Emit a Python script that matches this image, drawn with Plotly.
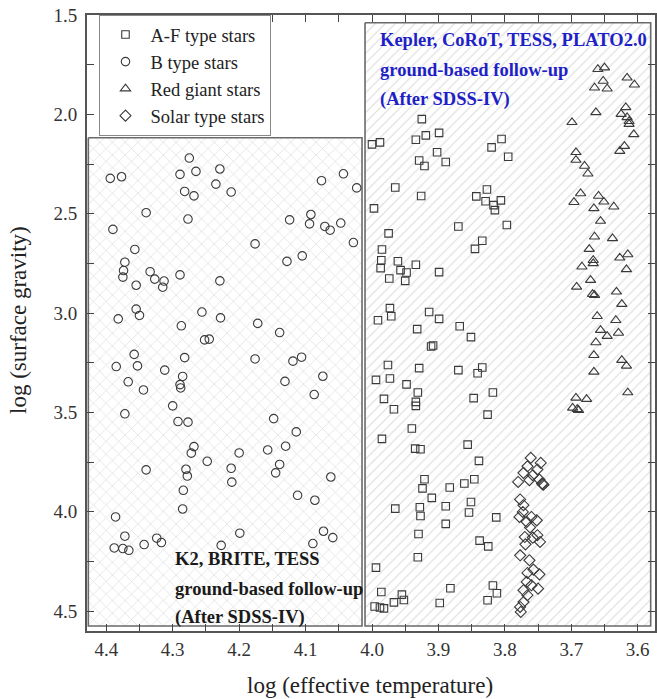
import plotly.graph_objects as go

# ---- data (log Teff, log g) ----
af_x = [3.925,4.0,3.988,3.934,3.919,3.899,3.902,3.929,3.921,3.889,3.82,3.805,3.795,3.965,3.926,3.997,3.827,3.843,3.829,3.806,3.817,3.815,3.87,3.797,3.975,3.985,3.834,3.845,3.986,3.987,3.961,3.957,3.948,3.974,3.95,3.934,3.899,3.973,3.971,3.991,3.914,3.899,3.932,3.868,3.851,3.911,3.908,
        3.976,3.929,3.87,3.834,3.841,3.994,3.973,3.948,3.931,3.934,3.934,3.982,3.967,3.847,3.818,3.826,3.94,3.985,3.935,3.927,3.856,3.839,3.921,3.924,3.91,3.883,3.861,3.846,3.965,3.928,3.927,3.889,3.889,3.851,3.854,3.813,3.93,3.838,3.825,3.931,3.994,3.986,3.955,3.952,3.967,3.996,3.982,3.988,3.898,3.882,3.818,3.812,3.826]
af_y = [2.024,2.151,2.141,2.128,2.106,2.093,2.191,2.232,2.26,2.24,2.166,2.124,2.213,2.368,2.411,2.473,2.378,2.413,2.437,2.433,2.457,2.482,2.564,2.557,2.599,2.68,2.636,2.677,2.734,2.774,2.739,2.784,2.796,2.826,2.838,2.757,2.794,2.975,3.016,3.036,2.995,3.029,3.081,3.066,3.121,3.168,3.163,
        3.261,3.277,3.287,3.274,3.303,3.336,3.329,3.359,3.4,3.447,3.467,3.432,3.484,3.428,3.4,3.511,3.581,3.633,3.682,3.685,3.662,3.744,3.836,3.882,3.93,3.878,3.858,3.836,3.984,3.977,4.021,3.972,4.061,3.951,4.004,4.028,4.112,4.145,4.174,4.229,4.281,4.404,4.417,4.444,4.456,4.477,4.486,4.482,4.459,4.385,4.371,4.41,4.445]

b_x = [4.275,4.394,4.377,4.289,4.265,4.229,4.282,4.268,4.235,4.212,4.076,4.043,4.023,4.34,4.39,4.277,4.124,4.092,4.094,4.071,4.063,4.047,4.028,4.176,4.357,4.372,4.374,4.375,4.355,4.334,4.327,4.313,4.315,4.289,4.229,4.128,4.105,4.355,4.35,4.382,4.287,4.256,4.228,4.172,4.139,4.252,4.245,4.358,4.385,4.353,4.312,4.282,4.176,4.119,4.106,4.074,
       4.285,4.367,4.344,4.289,4.288,4.131,4.087,4.372,4.3,4.292,4.277,4.148,4.114,4.268,4.272,4.2,4.157,4.13,4.248,4.34,4.28,4.278,4.212,4.211,4.139,4.145,4.062,4.284,4.285,4.112,4.086,4.386,4.372,4.388,4.375,4.366,4.343,4.324,4.317,4.227,4.199,4.089,4.073,4.059]
b_y = [2.22,2.322,2.314,2.302,2.287,2.275,2.388,2.41,2.351,2.391,2.334,2.299,2.37,2.495,2.579,2.527,2.531,2.504,2.551,2.564,2.583,2.547,2.645,2.652,2.68,2.744,2.786,2.819,2.86,2.792,2.829,2.839,2.87,2.808,2.838,2.74,2.712,2.98,3.012,3.029,3.064,2.995,3.024,3.052,3.098,3.135,3.131,3.208,3.269,3.266,3.287,3.224,3.231,3.242,3.222,3.318,
       3.319,3.346,3.387,3.36,3.377,3.344,3.41,3.507,3.467,3.546,3.549,3.531,3.598,3.672,3.705,3.704,3.689,3.67,3.746,3.789,3.786,3.82,3.781,3.851,3.762,3.804,3.825,3.892,3.986,3.917,3.942,4.026,4.123,4.182,4.185,4.194,4.165,4.133,4.155,4.169,4.108,4.16,4.098,4.13]

rg_x = [3.66,3.65,3.652,3.665,3.646,3.616,3.605,3.663,3.699,3.618,3.625,3.616,3.613,3.613,3.606,3.62,3.627,3.693,3.693,3.68,3.675,3.686,3.696,3.659,3.651,3.666,3.636,3.656,3.665,3.638,3.673,3.667,3.684,3.667,3.627,3.615,3.617,3.671,3.692,3.668,3.665,3.632,3.624,3.661,3.633,3.656,3.646,3.629,3.663,3.666,3.624,3.617,3.666,3.615,3.693,3.677,3.698,3.691,3.689]
rg_y = [1.773,1.765,1.832,1.866,1.871,1.816,1.851,1.99,2.04,1.965,1.999,2.015,2.035,2.049,2.101,2.16,2.185,2.191,2.23,2.26,2.299,2.398,2.442,2.411,2.44,2.473,2.465,2.537,2.616,2.624,2.678,2.734,2.767,2.75,2.722,2.705,2.78,2.834,2.868,2.905,2.91,2.893,2.955,3.016,3.036,3.086,3.116,3.1,3.148,3.212,3.237,3.266,3.296,3.4,3.427,3.433,3.477,3.484,3.489]

sol_x = [3.761,3.746,3.766,3.751,3.772,3.758,3.78,3.763,3.748,3.744,3.743,3.742,3.777,3.772,3.778,3.773,3.76,3.752,3.767,3.762,3.751,3.77,3.758,3.747,3.769,3.777,3.763,3.757,3.748,3.766,3.767,3.76,3.75,3.772,3.766,3.772,3.777,3.776]
sol_y = [3.729,3.754,3.771,3.787,3.804,3.816,3.85,3.841,3.838,3.858,3.861,3.864,3.938,3.967,4.026,4.001,4.026,4.043,4.051,4.079,4.118,4.127,4.13,4.152,4.164,4.219,4.244,4.291,4.315,4.308,4.353,4.37,4.387,4.395,4.42,4.454,4.479,4.504]

# survey coverage regions (log Teff span, log g span)
region_left_x = [4.427, 4.015]
region_left_y = [2.118, 4.575]
region_right_x = [4.0105, 3.5805]
region_right_y = [1.539, 4.575]

x_ticks = [4.4, 4.3, 4.2, 4.1, 4.0, 3.9, 3.8, 3.7, 3.6]
y_ticks = [1.5, 2.0, 2.5, 3.0, 3.5, 4.0, 4.5]

FONT = "Liberation Serif, Times New Roman, serif"
MC = "#3a3a3a"

fig = go.Figure()

def rect(xs, ys, shape, size, sol):
    return go.Scatter(
        x=[xs[0], xs[1], xs[1], xs[0], xs[0]],
        y=[ys[0], ys[0], ys[1], ys[1], ys[0]],
        mode="lines", fill="toself", fillcolor="white",
        fillpattern=dict(shape=shape, size=size, solidity=sol,
                         fgcolor="#b8b8b8", bgcolor="white"),
        line=dict(color="#6a6a6a", width=1.6),
        hoverinfo="skip", showlegend=False)

fig.add_trace(rect(region_left_x, region_left_y, "x", 9, 0.14))
fig.add_trace(rect(region_right_x, region_right_y, "/", 7, 0.16))

fig.add_trace(go.Scatter(x=af_x, y=af_y, mode="markers", name="A-F type stars",
                         marker=dict(symbol="square-open", size=7.5, color=MC, line=dict(width=1.1))))
fig.add_trace(go.Scatter(x=b_x, y=b_y, mode="markers", name="B type stars",
                         marker=dict(symbol="circle-open", size=8.5, color=MC, line=dict(width=1.1))))
fig.add_trace(go.Scatter(x=rg_x, y=rg_y, mode="markers", name="Red giant stars",
                         marker=dict(symbol="triangle-up-open", size=9, color=MC, line=dict(width=1.1))))
fig.add_trace(go.Scatter(x=sol_x, y=sol_y, mode="markers", name="Solar type stars",
                         marker=dict(symbol="diamond-open", size=8.5, color=MC, line=dict(width=1.1))))

blue = "#1f1fc8"
for txt, yy in [("Kepler, CoRoT, TESS, PLATO2.0", 1.626),
                ("ground-based follow-up", 1.777),
                ("(After SDSS-IV)", 1.923)]:
    fig.add_annotation(x=3.991, y=yy, xref="x", yref="y", text=f"<b>{txt}</b>",
                       showarrow=False, xanchor="left", yanchor="middle",
                       font=dict(family=FONT, size=18.5, color=blue))
for txt, yy in [("K2, BRITE, TESS", 4.239),
                ("ground-based follow-up", 4.39),
                ("(After SDSS-IV)", 4.531)]:
    fig.add_annotation(x=4.3, y=yy, xref="x", yref="y", text=f"<b>{txt}</b>",
                       showarrow=False, xanchor="left", yanchor="middle",
                       font=dict(family=FONT, size=18.5, color="#1a1a1a"))

# axis titles (placed in pixels, converted to paper fractions below)
fig.add_annotation(x=370, y=686, xref="paper", yref="paper", text="log (effective temperature)",
                   showarrow=False, xanchor="center", yanchor="middle",
                   font=dict(family=FONT, size=23, color="#222"))
fig.add_annotation(x=18, y=320, xref="paper", yref="paper", text="log (surface gravity)",
                   showarrow=False, xanchor="center", yanchor="middle", textangle=-90,
                   font=dict(family=FONT, size=23, color="#222"))

axis_common = dict(showline=True, linecolor="#555", linewidth=2, mirror="allticks",
                   ticks="inside", ticklen=7, tickwidth=1.3, tickcolor="#444",
                   showgrid=False, zeroline=False, automargin=False,
                   tickfont=dict(family=FONT, size=19, color="#333"))

fig.update_xaxes(range=[4.429, 3.574], tickvals=x_ticks, tickformat=".1f",
                 minor=dict(dtick=0.05, ticks="inside", ticklen=7, tickcolor="#444", tickwidth=1.3),
                 **axis_common)
fig.update_yaxes(range=[4.60, 1.5], tickvals=y_ticks, tickformat=".1f",
                 ticklabelstandoff=4,
                 minor=dict(dtick=0.25, ticks="inside", ticklen=7, tickcolor="#444", tickwidth=1.3),
                 **axis_common)

fig.update_layout(
    width=657, height=699,
    margin=dict(l=87, r=2, t=15, b=68, autoexpand=False),
    paper_bgcolor="white", plot_bgcolor="white",
    font=dict(family=FONT, color="#222"),
    legend=dict(x=0.022, y=1.0, xanchor="left", yanchor="top",
                bgcolor="white", bordercolor="#888", borderwidth=1,
                font=dict(family=FONT, size=18.5, color="#222"),
                itemwidth=40, tracegroupgap=0),
    showlegend=True,
)

W, H, L, R, T, B = 657, 699, 87, 2, 15, 68
pw, ph = W - L - R, H - T - B
for ann in fig.layout.annotations:
    if ann.xref == "paper" and ann.x > 1.5:
        px, py = ann.x, ann.y
        ann.x = (px - L) / pw
        ann.y = 1 - (py - T) / ph

fig.write_html("out.html", config={"displayModeBar": False},
               post_script="document.body.style.margin='0';")
